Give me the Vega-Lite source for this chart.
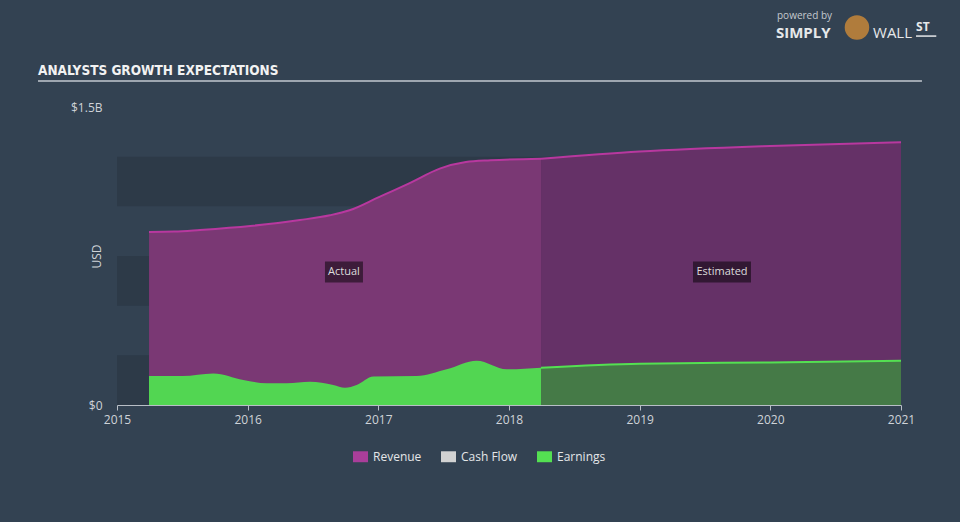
{
  "$schema": "https://vega.github.io/schema/vega-lite/v6.json",
  "autosize": "none",
  "width": 784,
  "height": 298,
  "padding": {"left": 117, "top": 107, "right": 59, "bottom": 117},
  "background": "#334252",
  "config": {
    "view": {"stroke": null},
    "font": "Open Sans",
    "axis": {"grid": false, "labelFont": "Open Sans", "titleFont": "Open Sans"}
  },
  "datasets": {
    "series": [
      {"year": 2015.245, "value": 0.871, "series": "Revenue", "kind": "Actual"},
      {"year": 2015.44, "value": 0.873, "series": "Revenue", "kind": "Actual"},
      {"year": 2015.635, "value": 0.881, "series": "Revenue", "kind": "Actual"},
      {"year": 2016.02, "value": 0.901, "series": "Revenue", "kind": "Actual"},
      {"year": 2016.4, "value": 0.931, "series": "Revenue", "kind": "Actual"},
      {"year": 2016.63, "value": 0.955, "series": "Revenue", "kind": "Actual"},
      {"year": 2016.78, "value": 0.98, "series": "Revenue", "kind": "Actual"},
      {"year": 2017.0, "value": 1.045, "series": "Revenue", "kind": "Actual"},
      {"year": 2017.24, "value": 1.117, "series": "Revenue", "kind": "Actual"},
      {"year": 2017.47, "value": 1.19, "series": "Revenue", "kind": "Actual"},
      {"year": 2017.67, "value": 1.223, "series": "Revenue", "kind": "Actual"},
      {"year": 2017.86, "value": 1.232, "series": "Revenue", "kind": "Actual"},
      {"year": 2018.245, "value": 1.24, "series": "Revenue", "kind": "Actual"},
      {"year": 2018.245, "value": 1.24, "series": "Revenue", "kind": "Estimated"},
      {"year": 2019.0, "value": 1.276, "series": "Revenue", "kind": "Estimated"},
      {"year": 2020.0, "value": 1.304, "series": "Revenue", "kind": "Estimated"},
      {"year": 2021.0, "value": 1.322, "series": "Revenue", "kind": "Estimated"},
      {"year": 2015.245, "value": 0.146, "series": "Earnings", "kind": "Actual"},
      {"year": 2015.5, "value": 0.146, "series": "Earnings", "kind": "Actual"},
      {"year": 2015.737, "value": 0.159, "series": "Earnings", "kind": "Actual"},
      {"year": 2015.967, "value": 0.126, "series": "Earnings", "kind": "Actual"},
      {"year": 2016.146, "value": 0.109, "series": "Earnings", "kind": "Actual"},
      {"year": 2016.3, "value": 0.109, "series": "Earnings", "kind": "Actual"},
      {"year": 2016.477, "value": 0.117, "series": "Earnings", "kind": "Actual"},
      {"year": 2016.655, "value": 0.101, "series": "Earnings", "kind": "Actual"},
      {"year": 2016.745, "value": 0.087, "series": "Earnings", "kind": "Actual"},
      {"year": 2016.834, "value": 0.101, "series": "Earnings", "kind": "Actual"},
      {"year": 2016.962, "value": 0.143, "series": "Earnings", "kind": "Actual"},
      {"year": 2017.293, "value": 0.146, "series": "Earnings", "kind": "Actual"},
      {"year": 2017.523, "value": 0.18, "series": "Earnings", "kind": "Actual"},
      {"year": 2017.753, "value": 0.223, "series": "Earnings", "kind": "Actual"},
      {"year": 2017.982, "value": 0.18, "series": "Earnings", "kind": "Actual"},
      {"year": 2018.245, "value": 0.188, "series": "Earnings", "kind": "Actual"},
      {"year": 2018.245, "value": 0.188, "series": "Earnings", "kind": "Estimated"},
      {"year": 2019.0, "value": 0.208, "series": "Earnings", "kind": "Estimated"},
      {"year": 2020.0, "value": 0.214, "series": "Earnings", "kind": "Estimated"},
      {"year": 2021.0, "value": 0.223, "series": "Earnings", "kind": "Estimated"}
    ],
    "bands": [
      {"lo": 0, "hi": 0.25},
      {"lo": 0.5, "hi": 0.75},
      {"lo": 1.0, "hi": 1.25}
    ],
    "legendItems": [
      {"series": "Revenue"},
      {"series": "Cash Flow"},
      {"series": "Earnings"}
    ],
    "one": [{}]
  },
  "layer": [
    {
      "data": {"name": "legendItems"},
      "mark": {"type": "square", "size": 1},
      "encoding": {
        "x": {"datum": 2015.1, "type": "quantitative", "scale": {"domain": [2015, 2021], "nice": false, "zero": false}, "title": null},
        "y": {"datum": 0.1, "type": "quantitative", "scale": {"domain": [0, 1.5], "nice": false}, "title": "USD"},
        "color": {
          "field": "series", "type": "nominal",
          "scale": {"domain": ["Revenue", "Cash Flow", "Earnings"], "range": ["#a93e9a", "#d2d2d2", "#54e052"]},
          "legend": {
            "title": null, "orient": "none", "direction": "horizontal",
            "legendX": 236, "legendY": 342,
            "symbolType": "M-1,-0.73H1V0.73H-1Z", "symbolSize": 225,
            "symbolOpacity": 1, "symbolStrokeWidth": 0,
            "labelFont": "Open Sans", "labelFontSize": 12, "labelColor": "#e4e6e8",
            "labelOffset": 5, "columnPadding": 19
          }
        }
      }
    },
    {
      "data": {"name": "bands"},
      "mark": {"type": "rect", "color": "#2d3a48"},
      "encoding": {
        "x": {"datum": 2015, "type": "quantitative", "scale": {"domain": [2015, 2021], "nice": false, "zero": false}, "title": null,
          "axis": {"values": [2015, 2016, 2017, 2018, 2019, 2020, 2021], "format": "d", "labelFlush": false, "domainColor": "#b8bec6", "domainWidth": 1, "tickColor": "#b8bec6", "tickSize": 5, "labelColor": "#cfd3d8", "labelFontSize": 12, "labelPadding": 4}},
        "x2": {"datum": 2021},
        "y": {"field": "lo", "type": "quantitative", "scale": {"domain": [0, 1.5], "nice": false}, "title": "USD",
          "axis": {"values": [0, 1.5], "labelExpr": "datum.value == 0 ? '$0' : '$1.5B'", "labelFlush": false, "domain": false, "ticks": false, "labelColor": "#cfd3d8", "labelFontSize": 12, "labelPadding": 15, "titleColor": "#cfd3d8", "titleFontSize": 12, "titleFontWeight": "normal", "titleX": -21, "titleY": 149, "titleAngle": -90, "titleBaseline": "middle", "titleAlign": "center"}},
        "y2": {"field": "hi"}
      }
    },
    {
      "data": {"name": "series"},
      "transform": [{"filter": "datum.series == 'Revenue' && datum.kind == 'Actual'"}],
      "mark": {"type": "area", "color": "#7a3874", "interpolate": "monotone"},
      "encoding": {
        "x": {"field": "year", "type": "quantitative", "scale": {"domain": [2015, 2021], "nice": false, "zero": false}, "title": null},
        "y": {"field": "value", "type": "quantitative", "scale": {"domain": [0, 1.5], "nice": false}, "title": "USD"}
      }
    },
    {
      "data": {"name": "series"},
      "transform": [{"filter": "datum.series == 'Revenue' && datum.kind == 'Estimated'"}],
      "mark": {"type": "area", "color": "#653167", "interpolate": "monotone"},
      "encoding": {
        "x": {"field": "year", "type": "quantitative", "scale": {"domain": [2015, 2021], "nice": false, "zero": false}, "title": null},
        "y": {"field": "value", "type": "quantitative", "scale": {"domain": [0, 1.5], "nice": false}, "title": "USD"}
      }
    },
    {
      "data": {"name": "series"},
      "transform": [{"filter": "datum.series == 'Earnings' && datum.kind == 'Actual'"}],
      "mark": {"type": "area", "color": "#52d652", "interpolate": "monotone"},
      "encoding": {
        "x": {"field": "year", "type": "quantitative", "scale": {"domain": [2015, 2021], "nice": false, "zero": false}, "title": null},
        "y": {"field": "value", "type": "quantitative", "scale": {"domain": [0, 1.5], "nice": false}, "title": "USD"}
      }
    },
    {
      "data": {"name": "series"},
      "transform": [{"filter": "datum.series == 'Earnings' && datum.kind == 'Estimated'"}],
      "mark": {"type": "area", "color": "#457a47", "interpolate": "monotone"},
      "encoding": {
        "x": {"field": "year", "type": "quantitative", "scale": {"domain": [2015, 2021], "nice": false, "zero": false}, "title": null},
        "y": {"field": "value", "type": "quantitative", "scale": {"domain": [0, 1.5], "nice": false}, "title": "USD"}
      }
    },
    {
      "data": {"name": "series"},
      "transform": [{"filter": "datum.series == 'Revenue'"}],
      "mark": {"type": "line", "color": "#b8389f", "strokeWidth": 2, "interpolate": "monotone"},
      "encoding": {
        "x": {"field": "year", "type": "quantitative", "scale": {"domain": [2015, 2021], "nice": false, "zero": false}, "title": null},
        "y": {"field": "value", "type": "quantitative", "scale": {"domain": [0, 1.5], "nice": false}, "title": "USD"},
        "detail": {"field": "kind", "type": "nominal"}
      }
    },
    {
      "data": {"name": "series"},
      "transform": [{"filter": "datum.series == 'Earnings' && datum.kind == 'Estimated'"}],
      "mark": {"type": "line", "color": "#54e052", "strokeWidth": 2, "interpolate": "monotone"},
      "encoding": {
        "x": {"field": "year", "type": "quantitative", "scale": {"domain": [2015, 2021], "nice": false, "zero": false}, "title": null},
        "y": {"field": "value", "type": "quantitative", "scale": {"domain": [0, 1.5], "nice": false}, "title": "USD"}
      }
    },
    {
      "data": {"name": "one"},
      "mark": {"type": "point", "shape": "M-1,-0.553H1V0.553H-1Z", "size": 1444, "filled": true, "color": "#000000", "opacity": 0.5, "strokeWidth": 0},
      "encoding": {
        "x": {"datum": 2016.737, "type": "quantitative", "scale": {"domain": [2015, 2021], "nice": false, "zero": false}},
        "y": {"datum": 0.6695, "type": "quantitative", "scale": {"domain": [0, 1.5], "nice": false}}
      }
    },
    {
      "data": {"name": "one"},
      "mark": {"type": "point", "shape": "M-1,-0.362H1V0.362H-1Z", "size": 3364, "filled": true, "color": "#000000", "opacity": 0.5, "strokeWidth": 0},
      "encoding": {
        "x": {"datum": 2019.63, "type": "quantitative", "scale": {"domain": [2015, 2021], "nice": false, "zero": false}},
        "y": {"datum": 0.6695, "type": "quantitative", "scale": {"domain": [0, 1.5], "nice": false}}
      }
    },
    {
      "data": {"name": "one"},
      "mark": {"type": "text", "text": "Actual", "font": "Open Sans", "fontSize": 11, "color": "#dcdcdc", "align": "center", "baseline": "middle"},
      "encoding": {
        "x": {"datum": 2016.737, "type": "quantitative", "scale": {"domain": [2015, 2021], "nice": false, "zero": false}},
        "y": {"datum": 0.6695, "type": "quantitative", "scale": {"domain": [0, 1.5], "nice": false}}
      }
    },
    {
      "data": {"name": "one"},
      "mark": {"type": "text", "text": "Estimated", "font": "Open Sans", "fontSize": 11, "color": "#dcdcdc", "align": "center", "baseline": "middle"},
      "encoding": {
        "x": {"datum": 2019.63, "type": "quantitative", "scale": {"domain": [2015, 2021], "nice": false, "zero": false}},
        "y": {"datum": 0.6695, "type": "quantitative", "scale": {"domain": [0, 1.5], "nice": false}}
      }
    },
    {
      "data": {"name": "one"},
      "mark": {"type": "text", "text": "ANALYSTS GROWTH EXPECTATIONS", "font": "DejaVu Sans Condensed, DejaVu Sans, sans-serif", "fontWeight": "bold", "fontSize": 13.5, "color": "#f2f2f2", "align": "left", "baseline": "alphabetic"},
      "encoding": {
        "x": {"datum": 2014.3954, "type": "quantitative", "scale": {"domain": [2015, 2021], "nice": false, "zero": false}},
        "y": {"datum": 1.661, "type": "quantitative", "scale": {"domain": [0, 1.5], "nice": false}}
      }
    },
    {
      "data": {"name": "one"},
      "mark": {"type": "rule", "color": "#9ea6b0", "strokeWidth": 2},
      "encoding": {
        "x": {"datum": 2014.3954, "type": "quantitative", "scale": {"domain": [2015, 2021], "nice": false, "zero": false}},
        "x2": {"datum": 2021.1605},
        "y": {"datum": 1.631, "type": "quantitative", "scale": {"domain": [0, 1.5], "nice": false}}
      }
    },
    {
      "data": {"name": "one"},
      "mark": {"type": "text", "text": "powered by", "font": "Open Sans", "fontSize": 10, "color": "#c4c9cf", "align": "left", "baseline": "alphabetic"},
      "encoding": {
        "x": {"datum": 2020.051, "type": "quantitative", "scale": {"domain": [2015, 2021], "nice": false, "zero": false}},
        "y": {"datum": 1.943, "type": "quantitative", "scale": {"domain": [0, 1.5], "nice": false}}
      }
    },
    {
      "data": {"name": "one"},
      "mark": {"type": "text", "text": "SIMPLY", "font": "Open Sans", "fontWeight": "bold", "fontSize": 15, "color": "#e6e8ea", "align": "left", "baseline": "alphabetic"},
      "encoding": {
        "x": {"datum": 2020.043, "type": "quantitative", "scale": {"domain": [2015, 2021], "nice": false, "zero": false}},
        "y": {"datum": 1.847, "type": "quantitative", "scale": {"domain": [0, 1.5], "nice": false}}
      }
    },
    {
      "data": {"name": "one"},
      "mark": {"type": "point", "shape": "circle", "size": 600, "filled": true, "color": "#b07c3c", "opacity": 1, "strokeWidth": 0},
      "encoding": {
        "x": {"datum": 2020.663, "type": "quantitative", "scale": {"domain": [2015, 2021], "nice": false, "zero": false}},
        "y": {"datum": 1.9, "type": "quantitative", "scale": {"domain": [0, 1.5], "nice": false}}
      }
    },
    {
      "data": {"name": "one"},
      "mark": {"type": "text", "text": "WALL", "font": "Open Sans", "fontSize": 15, "color": "#e6e8ea", "align": "left", "baseline": "alphabetic"},
      "encoding": {
        "x": {"datum": 2020.786, "type": "quantitative", "scale": {"domain": [2015, 2021], "nice": false, "zero": false}},
        "y": {"datum": 1.847, "type": "quantitative", "scale": {"domain": [0, 1.5], "nice": false}}
      }
    },
    {
      "data": {"name": "one"},
      "mark": {"type": "text", "text": "ST", "font": "Open Sans", "fontWeight": "bold", "fontSize": 12, "color": "#e6e8ea", "align": "left", "baseline": "alphabetic"},
      "encoding": {
        "x": {"datum": 2021.115, "type": "quantitative", "scale": {"domain": [2015, 2021], "nice": false, "zero": false}},
        "y": {"datum": 1.883, "type": "quantitative", "scale": {"domain": [0, 1.5], "nice": false}}
      }
    },
    {
      "data": {"name": "one"},
      "mark": {"type": "rule", "color": "#e6e8ea", "strokeWidth": 1.5},
      "encoding": {
        "x": {"datum": 2021.115, "type": "quantitative", "scale": {"domain": [2015, 2021], "nice": false, "zero": false}},
        "x2": {"datum": 2021.27},
        "y": {"datum": 1.857, "type": "quantitative", "scale": {"domain": [0, 1.5], "nice": false}}
      }
    }
  ]
}
